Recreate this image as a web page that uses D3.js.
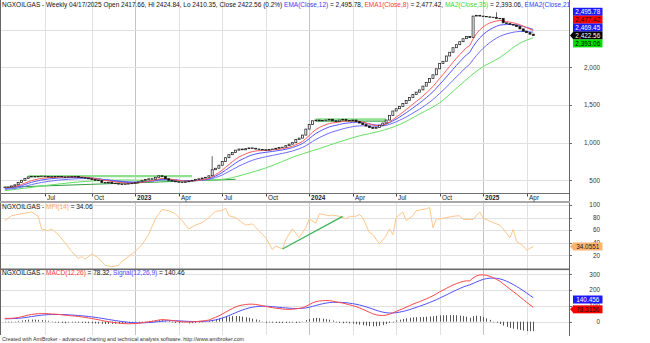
<!DOCTYPE html>
<html><head><meta charset="utf-8">
<script src="https://cdn.jsdelivr.net/npm/d3@7"></script>
<style>
body{margin:0;background:#fff}
svg{display:block}
text{font-family:"Liberation Sans",Arial,sans-serif}
</style>
</head><body>
<svg id="c" width="650" height="343"></svg>
<script>
// ---------------- DATA ----------------
const firstBarDate = "2022-04-08";
const lastBarDate = "2025-04-17";
const closes = [
 410,410,425,440,470,500,525,545,550,548,552,555,550,
 548,545,550,552,545,540,548,545,550,540,535,530,520,
 510,500,495,470,465,475,460,455,450,445,450,455,460,
 470,480,500,510,520,515,540,560,550,520,500,490,
 480,475,470,480,490,500,510,520,530,540,560,
 640,660,700,750,800,840,870,900,
 915,905,920,930,925,915,910,905,900,910,915,925,935,
 940,960,980,1000,1040,1060,1100,1180,1240,1290,
 1300,1290,1295,1300,1310,1290,1280,1300,1310,1295,1290,1300,
 1280,1260,1240,1220,1200,1190,1200,1230,1260,1300,
 1360,1420,1450,1480,1520,1560,1600,1640,
 1670,1700,1750,1800,1850,1900,1980,2050,2080,
 2150,2200,2260,2300,2340,2380,2410,2395,2680,
 2690,2680,2675,2670,2665,2660,2650,
 2650,2590,2580,2570,2560,2540,2510,2480,2460,2440,2422.56
];
const wickHighs = [[62, 820], [147, 2730]];
// MA2(Close,35) (bar index, value)
const ma35Idx = [0, 6, 12, 18, 24, 30, 36, 42, 48, 54, 60, 66, 70, 78, 88, 94, 100, 106, 112, 118, 124, 130, 136, 142, 148, 154, 158];
const ma35Val = [362, 395, 430, 460, 485, 500, 505, 500, 498, 495, 500, 518, 558, 664, 837, 920, 1010, 1090, 1150, 1240, 1380, 1530, 1760, 1980, 2130, 2320, 2393.06];
// EMA starting levels at the first visible bar
const ema8Start = 405, ema12Start = 393, ema2Start = 380, ema26Start = 372, signalStart = 18;
// MFI(14) (bar index, value)
const mfiIdx = [0,2,5,8,10,11,13,14,16,18,20,22,23,24,26,28,30,32,34,35,37,39,41,43,45,47,49,51,53,55,57,59,61,63,65,66,67,69,72,74,76,78,80,81,83,84,86,88,90,91,93,94,97,98,100,102,103,105,106,107,109,110,112,114,115,116,117,119,120,122,123,126,127,128,129,131,134,136,137,140,142,143,146,148,149,151,152,153,155,156,158];
const mfiVal = [75,83,86,89,82,62,59,62,53,40,26,15,18,14,22,16,4,2,4,10,18,26,37,53,78,93,91,86,75,62,68,72,80,90,91,95,83,80,68,70,59,48,29,35,30,45,62,48,64,78,71,86,83,84,82,78,82,82,85,80,56,53,38,51,62,53,80,89,75,83,91,94,96,64,77,79,82,83,77,77,89,79,72,68,62,48,61,42,35,28,34.06];
// manual trend lines [i1, v1, i2, v2]
const priceTrendsLight = [[7, 556, 56, 556], [93, 1310, 114, 1310]];
const priceTrendsDark = [[0, 407, 69, 513], [22, 540, 40, 461], [93, 1285, 114, 1285]];
const mfiTrend = [83, 30, 101, 82];
// axis ticks
const priceTicks = [500, 1000, 1500, 2000];
const priceGrid = [500, 1000, 1500, 2000, 2500];
const mfiTicks = [20, 40, 60, 80, 100];
const macdTicks = [0, 100, 200, 300];
// last values shown in the title / value labels
const lastEma12 = 2495.78, lastEma8 = 2477.42, lastMa35 = 2393.06, lastEma2 = 2469.45, lastClose = 2422.56;
const lastMfi = 34.0551, lastMacd = 78.3156, lastSignal = 140.456;

// ---------------- SETUP ----------------
const svg = d3.select("#c");
const N = closes.length;
const parse = d3.timeParse("%Y-%m-%d");
const dates = d3.range(N).map(i => i === N - 1 ? parse(lastBarDate) : d3.timeDay.offset(parse(firstBarDate), 7 * i));
const opens = closes.map((c, i) => i === 0 ? 405 : closes[i - 1]);
const highs = closes.map((c, i) => Math.max(c, opens[i]));
const lows = closes.map((c, i) => Math.min(c, opens[i]));
wickHighs.forEach(([i, v]) => highs[i] = v);

function ema(arr, n, seed) { const k = 2 / (n + 1); let e = seed; return arr.map((v, i) => { if (i > 0) e = e + k * (v - e); return e; }); }
const ema8 = ema(closes, 8, ema8Start);
const ema12 = ema(closes, 12, ema12Start);
const ema2 = ema(closes, 20, ema2Start);
const ema26 = ema(closes, 26, ema26Start);
const macd = ema12.map((v, i) => v - ema26[i]);
const signal = ema(macd, 9, signalStart);

const AX = 569; // right axis x
const x = d3.scaleLinear().domain([0, N - 1]).range([4.8, 533.3]);
const yP = d3.scaleLinear().domain([500, 2000]).range([180.3, 67.3]);
const yM = d3.scaleLinear().domain([0, 100]).range([267.9, 205]);
const yD = d3.scaleLinear().domain([0, 300]).range([321.7, 274.3]);

const defs = svg.append("defs");
function clip(id, y0, y1) { defs.append("clipPath").attr("id", id).append("rect").attr("x", 1).attr("y", y0).attr("width", AX - 1).attr("height", y1 - y0); }
clip("cp", 0, 193); clip("cm", 203, 268.5); clip("cd", 270, 335);
defs.append("clipPath").attr("id", "ct").append("rect").attr("x", 0).attr("y", 0).attr("width", AX).attr("height", 343);

// quarter marks
const quarters = [];
for (let i = 1; i < N; i++) {
  const m = dates[i].getMonth();
  if (m !== dates[i - 1].getMonth() && m % 3 === 0) quarters.push({ i, year: m === 0, label: m === 0 ? d3.timeFormat("%Y")(dates[i]) : d3.timeFormat("%b")(dates[i]) });
}

// vertical grid
const panels = [[0, 193], [203, 269], [270, 335]];
panels.forEach(([a, b]) => {
  svg.append("g").selectAll("line").data(quarters).join("line")
    .attr("x1", d => Math.round(x(d.i)) + 0.5).attr("x2", d => Math.round(x(d.i)) + 0.5)
    .attr("y1", a).attr("y2", b)
    .attr("stroke", d => d.year ? "#c4c4c4" : "#e0e0e0").attr("stroke-width", 1);
});
// horizontal grids
function hgrid(ticks, ys) {
  svg.append("g").selectAll("line").data(ticks).join("line")
    .attr("x1", 1).attr("x2", AX).attr("y1", d => Math.round(ys(d)) + 0.5).attr("y2", d => Math.round(ys(d)) + 0.5)
    .attr("stroke", "#e0e0e0");
}
hgrid(priceGrid, yP); hgrid(mfiTicks, yM); hgrid(macdTicks, yD);

// ---------------- PRICE PANEL ----------------
const gp = svg.append("g").attr("clip-path", "url(#cp)");
gp.selectAll("line.tl").data(priceTrendsLight).join("line")
  .attr("x1", d => x(d[0])).attr("y1", d => yP(d[1])).attr("x2", d => x(d[2])).attr("y2", d => yP(d[3]))
  .attr("stroke", "#8fe08f").attr("stroke-width", 2.2);
gp.selectAll("line.td").data(priceTrendsDark).join("line")
  .attr("x1", d => x(d[0])).attr("y1", d => yP(d[1])).attr("x2", d => x(d[2])).attr("y2", d => yP(d[3]))
  .attr("stroke", "#2f9f3f").attr("stroke-width", 1);

const lineP = d3.line().x((d, i) => x(i)).y(d => yP(d));
gp.append("path").attr("d", d3.line().x(d => x(d[0])).y(d => yP(d[1])).curve(d3.curveMonotoneX)(ma35Idx.map((v, k) => [v, ma35Val[k]])))
  .attr("fill", "none").attr("stroke", "#66e066").attr("stroke-width", 1);
gp.append("path").attr("d", lineP(ema2)).attr("fill", "none").attr("stroke", "#6c6cff").attr("stroke-width", 1);
gp.append("path").attr("d", lineP(ema12)).attr("fill", "none").attr("stroke", "#5555ff").attr("stroke-width", 1);
gp.append("path").attr("d", lineP(ema8)).attr("fill", "none").attr("stroke", "#ff5a5a").attr("stroke-width", 1);

const cg = gp.append("g");
d3.range(N).forEach(i => {
  const cx = x(i);
  cg.append("line").attr("x1", cx).attr("x2", cx).attr("y1", yP(highs[i])).attr("y2", yP(lows[i])).attr("stroke", "#222").attr("stroke-width", 0.7);
  const top = yP(Math.max(opens[i], closes[i])), bot = yP(Math.min(opens[i], closes[i]));
  const up = closes[i] >= opens[i];
  cg.append("rect").attr("x", cx - 1).attr("width", 2).attr("y", top).attr("height", Math.max(bot - top, 0.4))
    .attr("fill", up ? "#fff" : "#000").attr("stroke", "#222").attr("stroke-width", 0.75);
});

// ---------------- MFI PANEL ----------------
const gm = svg.append("g").attr("clip-path", "url(#cm)");
gm.append("path").attr("d", d3.line().x(d => x(d[0])).y(d => yM(d[1]))(mfiIdx.map((v, k) => [v, mfiVal[k]])))
  .attr("fill", "none").attr("stroke", "#ffc68c").attr("stroke-width", 1);
gm.append("line").attr("x1", x(mfiTrend[0])).attr("y1", yM(mfiTrend[1])).attr("x2", x(mfiTrend[2])).attr("y2", yM(mfiTrend[3]))
  .attr("stroke", "#3cb45a").attr("stroke-width", 1.3);

// ---------------- MACD PANEL ----------------
const gd = svg.append("g").attr("clip-path", "url(#cd)");
gd.selectAll("line.h").data(macd).join("line")
  .attr("x1", (d, i) => Math.round(x(i)) + 0.5).attr("x2", (d, i) => Math.round(x(i)) + 0.5)
  .attr("y1", yD(0)).attr("y2", (d, i) => yD(d - signal[i]) + (Math.abs(d - signal[i]) < 4 ? 1 : 0))
  .attr("stroke", "#555").attr("stroke-width", 1);
const lineD = d3.line().x((d, i) => x(i)).y(d => yD(d));
gd.append("path").attr("d", lineD(signal)).attr("fill", "none").attr("stroke", "#5050ff").attr("stroke-width", 1);
gd.append("path").attr("d", lineD(macd)).attr("fill", "none").attr("stroke", "#ff4848").attr("stroke-width", 1);

// ---------------- FRAME / AXES ----------------
svg.append("line").attr("x1", 0.5).attr("x2", 0.5).attr("y1", 0).attr("y2", 335).attr("stroke", "#666");
svg.append("line").attr("x1", AX + 0.5).attr("x2", AX + 0.5).attr("y1", 0).attr("y2", 336).attr("stroke", "#666");
svg.append("line").attr("x1", 0).attr("x2", AX).attr("y1", 193.5).attr("y2", 193.5).attr("stroke", "#707070");
svg.append("rect").attr("x", 0).attr("y", 201).attr("width", AX + 1).attr("height", 2).attr("fill", "#a8a8a8");
svg.append("rect").attr("x", 0).attr("y", 268.5).attr("width", AX + 1).attr("height", 1.6).attr("fill", "#6a6a6a");

// date axis
const dg = svg.append("g");
quarters.forEach(q => {
  const qx = Math.round(x(q.i)) + 0.5;
  dg.append("line").attr("x1", qx).attr("x2", qx).attr("y1", 194).attr("y2", 196.5).attr("stroke", "#444");
  dg.append("text").attr("x", qx + 1.6).attr("y", 199.8).attr("font-size", 6.4).attr("fill", "#222")
    .attr("font-weight", q.year ? "bold" : "normal").text(q.label);
});

// right tick labels
function rticks(ticks, ys, fmt) {
  const g = svg.append("g");
  ticks.forEach(t => {
    const yy = Math.round(ys(t)) + 0.5;
    g.append("line").attr("x1", AX).attr("x2", AX + 3).attr("y1", yy).attr("y2", yy).attr("stroke", "#666");
    g.append("text").attr("x", 600).attr("y", ys(t) + 2.3).attr("text-anchor", "end").attr("font-size", 6.4).attr("fill", "#333").text(fmt(t));
  });
}
rticks(priceTicks, yP, d3.format(","));
rticks(mfiTicks, yM, d3.format("d"));
rticks(macdTicks, yD, d3.format("d"));

// value labels
function vlabel(yc, txt, bg, fg, arrow) {
  const g = svg.append("g");
  if (arrow) g.append("path").attr("d", `M${AX + 1},${yc} L${AX + 4.5},${yc - 4} L${AX + 4.5},${yc + 4} Z`).attr("fill", bg);
  g.append("rect").attr("x", 573).attr("y", yc - 4).attr("width", 29.5).attr("height", 8).attr("fill", bg);
  g.append("text").attr("x", 587.8).attr("y", yc + 2.3).attr("text-anchor", "middle").attr("font-size", 6.4).attr("fill", fg).text(txt);
}
const fmt2 = d3.format(",.2f");
const plabels = [
  { v: lastEma12, bg: "#1a1aff", fg: "#fff" },
  { v: lastEma8, bg: "#ff0000", fg: "#111" },
  { v: lastEma2, bg: "#1a1aff", fg: "#fff" },
  { v: lastClose, bg: "#000", fg: "#fff", arrow: true },
  { v: lastMa35, bg: "#00e000", fg: "#000" }
];
const anchor = plabels.find(d => d.arrow);
anchor.y = yP(anchor.v);
const above = plabels.filter(d => d.v > anchor.v).sort((a, b) => a.v - b.v);
const below = plabels.filter(d => d.v < anchor.v).sort((a, b) => b.v - a.v);
let prev = anchor.y;
above.forEach(d => { d.y = Math.min(yP(d.v), prev - 7.9); prev = d.y; });
prev = anchor.y;
below.forEach(d => { d.y = Math.max(yP(d.v), prev + 7.9); prev = d.y; });
plabels.forEach(d => vlabel(d.y, fmt2(d.v), d.bg, d.fg, d.arrow));
vlabel(yM(lastMfi), d3.format(".4f")(lastMfi), "#ffb46e", "#222", true);
vlabel(yD(lastSignal), d3.format(".3f")(lastSignal), "#1a1aff", "#fff", false);
vlabel(yD(lastMacd), d3.format(".4f")(lastMacd), "#ff0000", "#111", true);

// titles
function title(yb, parts) {
  const t = svg.append("text").attr("x", 2).attr("y", yb).attr("font-size", 6.5).attr("clip-path", "url(#ct)");
  parts.forEach(([s, c]) => t.append("tspan").attr("fill", c).text(s));
}
title(7.4, [
  ["NGXOILGAS - Weekly 04/17/2025 Open 2417.66, Hi 2424.84, Lo 2410.35, Close 2422.56 (0.2%) ", "#111"],
  ["EMA(Close,12)", "#3a3aff"], [" = " + fmt2(lastEma12) + ", ", "#111"],
  ["EMA1(Close,8)", "#ff3a3a"], [" = " + fmt2(lastEma8) + ", ", "#111"],
  ["MA2(Close,35)", "#3ad83a"], [" = " + fmt2(lastMa35) + ", ", "#111"],
  ["EMA2(Close,21)", "#3a3aff"], [" = " + fmt2(lastEma2), "#111"]
]);
title(209.4, [["NGXOILGAS - ", "#111"], ["MFI(14)", "#ffa850"], [" = " + d3.format(".2f")(lastMfi), "#111"]]);
title(275, [["NGXOILGAS - ", "#111"], ["MACD(12,26)", "#ff3a3a"], [" = " + d3.format(".2f")(lastMacd) + ", ", "#111"],
  ["Signal(12,26,9)", "#4a4aff"], [" = " + d3.format(".2f")(lastSignal), "#111"]]);

svg.append("text").attr("x", 2).attr("y", 341).attr("font-size", 5.3).attr("fill", "#333")
  .text("Created with AmiBroker - advanced charting and technical analysis software. http://www.amibroker.com");
</script>
</body></html>
